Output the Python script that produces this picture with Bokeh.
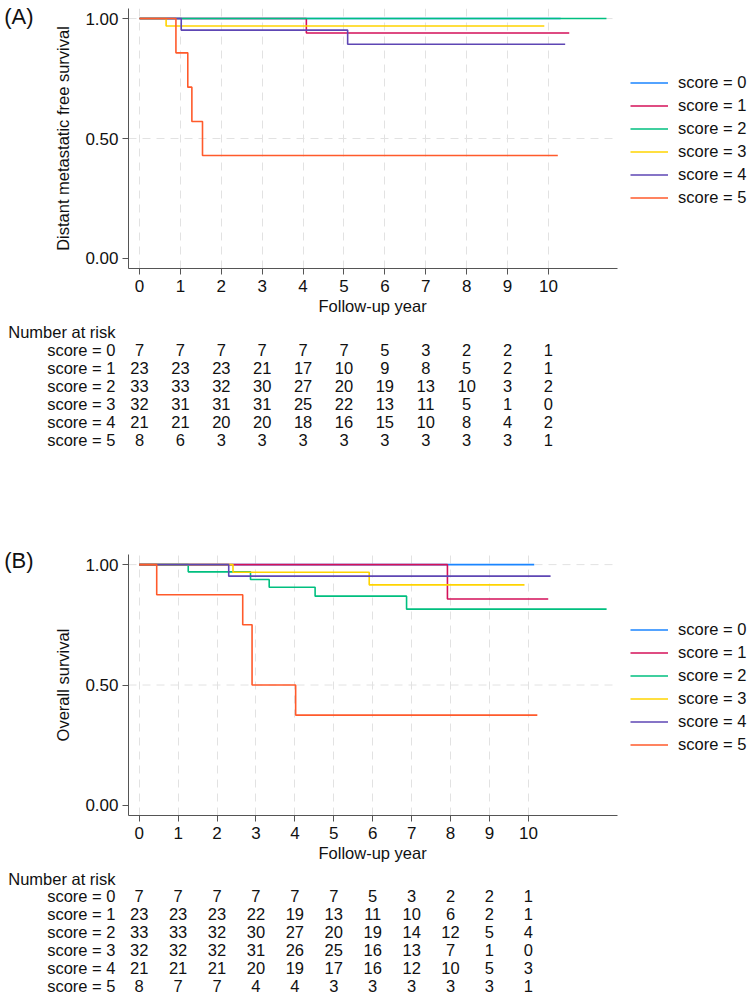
from bokeh.plotting import figure
from bokeh.models import (Range1d, FixedTicker, NumeralTickFormatter, Legend,
                          LegendItem, LinearAxis, ColumnDataSource, Title)
from bokeh.layouts import column
from bokeh.core.properties import value
from bokeh.embed import file_html
from bokeh.resources import INLINE

FONT = "Liberation Sans"
TEXT_COLOR = "#111111"

# ---- shared categories -------------------------------------------------
years = [0, 1, 2, 3, 4, 5, 6, 7, 8, 9, 10]
score_labels = ["score = 0", "score = 1", "score = 2",
                "score = 3", "score = 4", "score = 5"]
score_colors = ["#1A85FF", "#D41159", "#00BF7F", "#FFD400", "#5E46B4", "#FF5A2B"]

# ---- (A) distant metastatic free survival: step times / survival --------
dmfs_t0 = [0, 10.30]
dmfs_s0 = [1.0, 1.0]
dmfs_t1 = [0, 4.08, 10.51]
dmfs_s1 = [1.0, 0.940, 0.940]
dmfs_t2 = [0, 11.42]
dmfs_s2 = [1.0, 1.0]
dmfs_t3 = [0, 0.65, 9.90]
dmfs_s3 = [1.0, 0.969, 0.969]
dmfs_t4 = [0, 1.02, 5.09, 10.41]
dmfs_s4 = [1.0, 0.952, 0.893, 0.893]
dmfs_t5 = [0, 0.89, 1.18, 1.28, 1.54, 10.23]
dmfs_s5 = [1.0, 0.857, 0.714, 0.571, 0.429, 0.429]

# number at risk, (A)
risk_dmfs_0 = [7, 7, 7, 7, 7, 7, 5, 3, 2, 2, 1]
risk_dmfs_1 = [23, 23, 23, 21, 17, 10, 9, 8, 5, 2, 1]
risk_dmfs_2 = [33, 33, 32, 30, 27, 20, 19, 13, 10, 3, 2]
risk_dmfs_3 = [32, 31, 31, 31, 25, 22, 13, 11, 5, 1, 0]
risk_dmfs_4 = [21, 21, 20, 20, 18, 16, 15, 10, 8, 4, 2]
risk_dmfs_5 = [8, 6, 3, 3, 3, 3, 3, 3, 3, 3, 1]

# ---- (B) overall survival ----------------------------------------------
os_t0 = [0, 10.15]
os_s0 = [1.0, 1.0]
os_t1 = [0, 7.92, 10.51]
os_s1 = [1.0, 0.857, 0.857]
os_t2 = [0, 1.26, 2.86, 3.34, 4.52, 6.87, 12.01]
os_s2 = [1.0, 0.970, 0.938, 0.906, 0.869, 0.815, 0.815]
os_t3 = [0, 2.41, 5.91, 9.90]
os_s3 = [1.0, 0.968, 0.916, 0.916]
os_t4 = [0, 2.30, 10.57]
os_s4 = [1.0, 0.952, 0.952]
os_t5 = [0, 0.45, 2.66, 2.90, 4.02, 10.23]
os_s5 = [1.0, 0.875, 0.750, 0.500, 0.375, 0.375]

# number at risk, (B)
risk_os_0 = [7, 7, 7, 7, 7, 7, 5, 3, 2, 2, 1]
risk_os_1 = [23, 23, 23, 22, 19, 13, 11, 10, 6, 2, 1]
risk_os_2 = [33, 33, 32, 30, 27, 20, 19, 14, 12, 5, 4]
risk_os_3 = [32, 32, 32, 31, 26, 25, 16, 13, 7, 1, 0]
risk_os_4 = [21, 21, 21, 20, 19, 17, 16, 12, 10, 5, 3]
risk_os_5 = [8, 7, 7, 4, 4, 3, 3, 3, 3, 3, 1]

# ---- layout constants ----------------------------------------------------
W = 751
LEFT = 128          # left border (axis + captions)
AXIS_W = 489        # drawn length of the x axis
BOTTOM = 54
Y_LO, Y_HI = -0.042, 1.042
XTITLE = "Follow-up year"
XTITLE_OFFSET = 190  # left edge of the x title, measured from the frame's left


def wide_range(x_start, x_end):
    """Frame runs to the right edge (legend lives there); the axis stops at x_end."""
    ppu = AXIS_W / (x_end - x_start)
    return x_start, x_start + (W - LEFT) / ppu


def km_panel(curves, ylabel, tag, tag_drop, x_start, x_end, top, frame_h):
    h = top + frame_h + BOTTOM
    p = figure(width=W, height=h, output_backend="svg", toolbar_location=None,
               x_range=Range1d(*wide_range(x_start, x_end)),
               y_range=Range1d(Y_LO, Y_HI),
               min_border_left=LEFT, min_border_right=0,
               min_border_top=top, min_border_bottom=BOTTOM)
    p.outline_line_color = None
    p.background_fill_color = "white"
    p.border_fill_color = "white"

    # axes
    p.xaxis.ticker = FixedTicker(ticks=years)
    p.xaxis.bounds = (x_start, x_end)
    p.yaxis.ticker = FixedTicker(ticks=[0.0, 0.5, 1.0])
    p.yaxis.formatter = NumeralTickFormatter(format="0.00")
    for ax in (p.xaxis[0], p.yaxis[0]):
        ax.axis_line_color = "#555555"
        ax.major_tick_line_color = "#555555"
        ax.major_tick_out = 6
        ax.major_tick_in = 0
        ax.minor_tick_line_color = None
        ax.major_label_text_font = FONT
        ax.major_label_text_font_size = "17px"
        ax.major_label_text_color = TEXT_COLOR
        ax.axis_label_text_font = FONT
        ax.axis_label_text_font_size = "16.5px"
        ax.axis_label_text_font_style = "normal"
        ax.axis_label_text_color = TEXT_COLOR
    p.yaxis.axis_label = ylabel
    p.xaxis.major_label_standoff = 5
    p.yaxis.major_label_standoff = 4
    p.yaxis.axis_label_standoff = 10

    # x title centred under the drawn part of the axis
    p.add_layout(Title(text=XTITLE, align="left", offset=XTITLE_OFFSET,
                       standoff=0, text_font=FONT, text_font_size="16.5px",
                       text_font_style="normal", text_color=TEXT_COLOR),
                 "below")

    # panel tag "(A)"/"(B)" as the single label of an outer left axis
    p.extra_y_ranges = {"tag": Range1d(0, frame_h)}
    tag_pos = frame_h - tag_drop
    tag_axis = LinearAxis(y_range_name="tag", ticker=FixedTicker(ticks=[tag_pos]),
                          major_label_overrides={tag_pos: tag},
                          axis_line_color=None, major_tick_line_color=None,
                          minor_tick_line_color=None, major_tick_out=0,
                          major_tick_in=0, major_label_standoff=18,
                          major_label_text_font=FONT,
                          major_label_text_font_size="22px",
                          major_label_text_color=TEXT_COLOR)
    p.add_layout(tag_axis, "left")

    # dashed grid (vertical lines span the frame height)
    p.xgrid.ticker = FixedTicker(ticks=years)
    g = p.xgrid[0]
    g.grid_line_color = "#e2e2e2"
    g.grid_line_dash = "8 6"
    g.grid_line_width = 1
    # horizontal guides stop where the x axis stops
    p.ygrid.visible = False
    gy = [0.5, 1.0]
    p.segment(x0=[x_start] * len(gy), x1=[x_end] * len(gy), y0=gy, y1=gy,
              line_color="#e2e2e2", line_dash="8 6", line_width=1)

    items = []
    for (t, s), lab, col in zip(curves, score_labels, score_colors):
        r = p.step(x=t, y=s, mode="after", line_color=col, line_width=1.6)
        items.append(LegendItem(label=lab, renderers=[r]))

    legend = Legend(items=items, location=(AXIS_W + 13, 60),
                    glyph_width=38, glyph_height=21, label_height=21,
                    spacing=2, label_standoff=10, padding=0, margin=0,
                    border_line_color=None, background_fill_alpha=0,
                    label_text_font=FONT, label_text_font_size="16.5px",
                    label_text_color=TEXT_COLOR)
    p.add_layout(legend)
    return p


def risk_table(rows, x_start, x_end, h, row0_px, pitch):
    r_top = -row0_px / pitch
    r_bot = (h - row0_px) / pitch
    p = figure(width=W, height=h, output_backend="svg", toolbar_location=None,
               x_range=Range1d(*wide_range(x_start, x_end)),
               y_range=Range1d(r_bot, r_top),
               x_axis_location=None,
               min_border_left=LEFT, min_border_right=0,
               min_border_top=0, min_border_bottom=0)
    p.outline_line_color = None
    p.xgrid.visible = False
    p.ygrid.visible = False

    # row captions come from the left axis
    row_ticks = [-1] + list(range(len(rows)))
    overrides = {-1: "Number at risk"}
    overrides.update({i: lab for i, lab in enumerate(score_labels)})
    ax = p.yaxis[0]
    ax.ticker = FixedTicker(ticks=row_ticks)
    ax.major_label_overrides = overrides
    ax.axis_line_color = None
    ax.major_tick_line_color = None
    ax.minor_tick_line_color = None
    ax.major_tick_out = 0
    ax.major_tick_in = 0
    ax.major_label_standoff = 13
    ax.major_label_text_font = FONT
    ax.major_label_text_font_size = "16.5px"
    ax.major_label_text_color = TEXT_COLOR

    xs, ys, txt = [], [], []
    for i, counts in enumerate(rows):
        for yr, n in zip(years, counts):
            xs.append(yr)
            ys.append(i)
            txt.append(str(n))
    src = ColumnDataSource(dict(x=xs, y=ys, text=txt))
    p.text(x="x", y="y", text="text", source=src, text_align="center",
           text_baseline="middle", text_font=value(FONT),
           text_font_size=value("16.5px"), text_color=TEXT_COLOR)
    return p


dmfs_curves = [(dmfs_t0, dmfs_s0), (dmfs_t1, dmfs_s1), (dmfs_t2, dmfs_s2),
               (dmfs_t3, dmfs_s3), (dmfs_t4, dmfs_s4), (dmfs_t5, dmfs_s5)]
os_curves = [(os_t0, os_s0), (os_t1, os_s1), (os_t2, os_s2),
             (os_t3, os_s3), (os_t4, os_s4), (os_t5, os_s5)]

A_X = (-0.27, 11.69)
B_X = (-0.275, 12.29)

pa = km_panel(dmfs_curves, "Distant metastatic free survival", "(A)", 8,
              A_X[0], A_X[1], top=8, frame_h=260)
ta = risk_table([risk_dmfs_0, risk_dmfs_1, risk_dmfs_2, risk_dmfs_3,
                 risk_dmfs_4, risk_dmfs_5], A_X[0], A_X[1],
                h=208, row0_px=27, pitch=18)
pb = km_panel(os_curves, "Overall survival", "(B)", 6,
              B_X[0], B_X[1], top=24, frame_h=261)
tb = risk_table([risk_os_0, risk_os_1, risk_os_2, risk_os_3,
                 risk_os_4, risk_os_5], B_X[0], B_X[1],
                h=131, row0_px=26.5, pitch=18)

layout = column(pa, ta, pb, tb, spacing=0)

with open("out.html", "w") as f:
    f.write(file_html(layout, INLINE))
